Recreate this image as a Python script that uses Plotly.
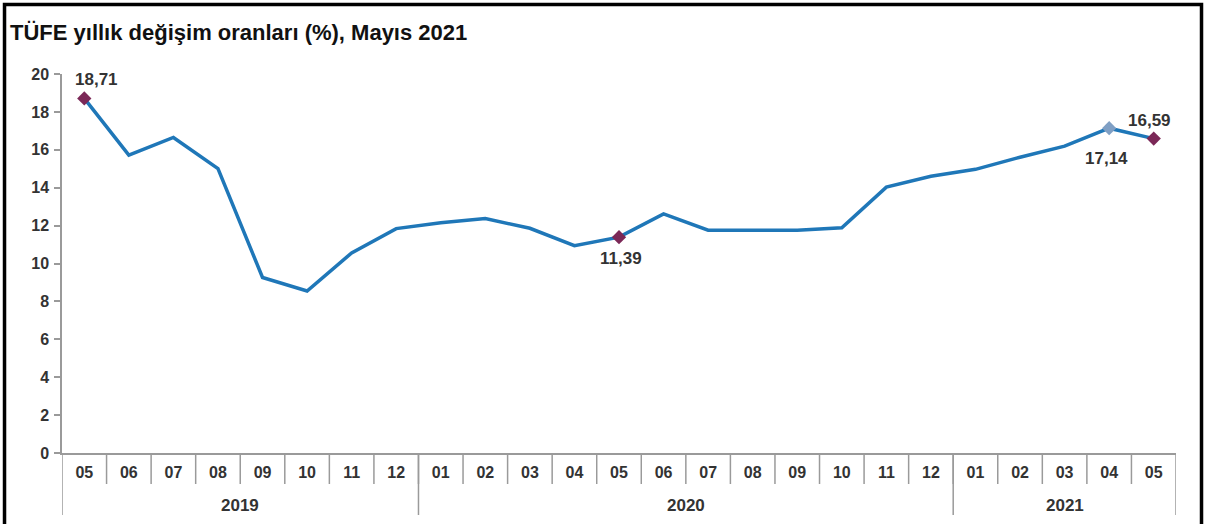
import plotly.graph_objects as go

periods = ["2019-05", "2019-06", "2019-07", "2019-08", "2019-09", "2019-10", "2019-11", "2019-12",
           "2020-01", "2020-02", "2020-03", "2020-04", "2020-05", "2020-06", "2020-07", "2020-08",
           "2020-09", "2020-10", "2020-11", "2020-12",
           "2021-01", "2021-02", "2021-03", "2021-04", "2021-05"]
months = [p[5:] for p in periods]
years = ["2019", "2020", "2021"]
values = [18.71, 15.72, 16.65, 15.01, 9.26, 8.55, 10.56, 11.84,
          12.15, 12.37, 11.86, 10.94, 11.39, 12.62, 11.76, 11.77, 11.75, 11.89, 14.03, 14.60,
          14.97, 15.61, 16.19, 17.14, 16.59]
label_idx = [0, 12, 23, 24]
label_text = ["18,71", "11,39", "17,14", "16,59"]
label_shift = [(12, 19), (2, -21), (-3, -30), (-4, 18)]
marker_colors = ["#7b2857", "#7b2857", "#7f9fc4", "#7b2857"]

font = "Liberation Sans, Arial, sans-serif"
axis_gray = "#9a9a9a"
plot_h = 379.0

fig = go.Figure()
fig.add_trace(go.Scatter(
    x=periods, y=values, mode="lines",
    line=dict(color="#1f77b8", width=3.5),
    hoverinfo="skip", showlegend=False))
fig.add_trace(go.Scatter(
    x=[periods[i] for i in label_idx], y=[values[i] for i in label_idx], mode="markers",
    marker=dict(symbol="diamond", size=11, color=marker_colors),
    hoverinfo="skip", showlegend=False))
for i, t, (dx, dy) in zip(label_idx, label_text, label_shift):
    fig.add_annotation(x=periods[i], y=values[i], text=t, showarrow=False,
                       xshift=dx, yshift=dy,
                       font=dict(family=font, size=17, color="#333333", weight="bold"))

shapes = []
# month separators (category boundaries)
for k in range(1, len(periods)):
    shapes.append(dict(type="line", xref="x", yref="paper", x0=k - 0.5, x1=k - 0.5,
                       y0=0, y1=-(31 / plot_h), line=dict(color=axis_gray, width=1.5)))
# year groups
edges = set()
for y in years:
    idx = [k for k, p in enumerate(periods) if p.startswith(y)]
    edges.update([idx[0] - 0.5, idx[-1] + 0.5])
    fig.add_annotation(x=(idx[0] + idx[-1]) / 2, xref="x", y=-(52 / plot_h), yref="paper",
                       text=y, showarrow=False, yanchor="middle",
                       font=dict(family=font, size=17, color="#333333", weight="bold"))
for e in sorted(edges):
    shapes.append(dict(type="line", xref="x", yref="paper", x0=e, x1=e, y0=0, y1=-(62 / plot_h),
                       line=dict(color=axis_gray, width=1.5)))
shapes.append(dict(type="rect", xref="paper", yref="paper",
                   x0=-0.0516, x1=1.0229, y0=-0.25, y1=1.1834,
                   line=dict(color="black", width=3.5)))

fig.update_layout(
    width=1205, height=524,
    margin=dict(l=62, r=29, t=74, b=71),
    paper_bgcolor="white", plot_bgcolor="white",
    title=dict(text="TÜFE yıllık değişim oranları (%), Mayıs 2021", x=0.0083, xanchor="left",
               y=1 - 32 / 524, yanchor="middle",
               font=dict(family=font, size=22, color="#111111", weight="bold")),
    xaxis=dict(type="category", range=[-0.5, len(periods) - 0.5], tickvals=periods, ticktext=months,
               showline=True, linecolor=axis_gray, linewidth=1.5,
               ticks="", ticklabelstandoff=4, automargin=False,
               tickfont=dict(family=font, size=16, color="#333333", weight="bold"),
               showgrid=False),
    yaxis=dict(range=[0, 20], dtick=2, showline=True, linecolor=axis_gray, linewidth=1.5,
               ticks="outside", ticklen=6, tickcolor=axis_gray, tickwidth=1.5,
               showgrid=False, zeroline=False, automargin=False, ticklabelstandoff=2,
               tickfont=dict(family=font, size=16, color="#333333", weight="bold")),
    shapes=shapes,
)
fig.write_html("out.html", config={"displayModeBar": False},
               post_script="document.body.style.margin='0';document.body.style.overflow='hidden';")
